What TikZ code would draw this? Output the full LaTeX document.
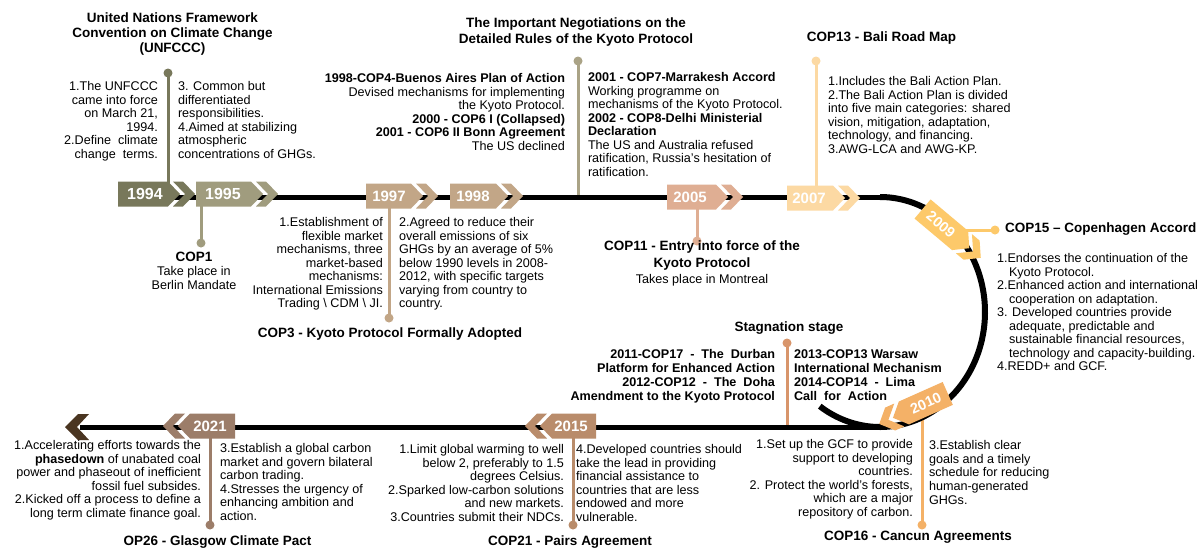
\documentclass[tikz,border=0pt]{standalone}
\usepackage{fontspec}
\setmainfont{Liberation Sans}
\definecolor{c94}{HTML}{78785B}
\definecolor{c95}{HTML}{A09C7E}
\definecolor{c97}{HTML}{C2A687}
\definecolor{cKy}{HTML}{AAA386}
\definecolor{c05}{HTML}{DFAE93}
\definecolor{c07}{HTML}{FCD9A3}
\definecolor{c09}{HTML}{FDC96A}
\definecolor{c10}{HTML}{F4B167}
\definecolor{cSt}{HTML}{D8956B}
\definecolor{c15}{HTML}{B98C6B}
\definecolor{c21}{HTML}{9C7D69}
\definecolor{cArr}{HTML}{4A3521}
\newcommand{\yeartagR}[8]{%
  \fill[#5] (#2,#4-12.5) -- (#3,#4-12.5) -- (#3+12,#4) -- (#3,#4+12.5) -- (#2,#4+12.5) -- cycle;
  \fill[#5] (#3+5,#4-12.5) -- (#3+15,#4-12.5) -- (#3+27,#4) -- (#3+15,#4+12.5) -- (#3+5,#4+12.5) -- (#3+17,#4) -- cycle;
  \node[yr=#8] (#1) at (#7,#4) {#6};}
\newcommand{\yeartagL}[8]{%
  \fill[#5] (#3,#4-12.5) -- (#2,#4-12.5) -- (#2-12,#4) -- (#2,#4+12.5) -- (#3,#4+12.5) -- cycle;
  \fill[#5] (#2-5,#4-12.5) -- (#2-15,#4-12.5) -- (#2-27,#4) -- (#2-15,#4+12.5) -- (#2-5,#4+12.5) -- (#2-17,#4) -- cycle;
  \node[yr=#8] (#1) at (#7,#4) {#6};}
\begin{document}
\begin{tikzpicture}[x=1pt,y=-1pt,
  body/.style={inner sep=0pt, outer sep=0pt, font=\fontsize{12.6}{13.5}\selectfont},
  ttl/.style={inner sep=0pt, outer sep=0pt, font=\bfseries\fontsize{13.5}{15}\selectfont},
  enddot/.style={circle, fill=#1, minimum size=9pt, inner sep=0pt},
  stemline/.style={draw=#1, line width=3pt},
  mainline/.style={draw=black, line width=5pt},
  yr/.style={text=white, inner sep=0pt, font=\bfseries\fontsize{#1}{#1}\selectfont},
]
\useasboundingbox[fill=white] (0,0) rectangle (1200,547);

% ---- dots and stems
\node[enddot=c94] (dUN) at (168,73) {};
\coordinate (eUN) at (168,186);
\draw[stemline=c94] (dUN.center) -- (eUN);

\node[enddot=c95] (dC1) at (201,243) {};
\coordinate (eC1) at (201,204);
\draw[stemline=c95] (dC1.center) -- (eC1);

\node[enddot=c97] (dC3) at (389,318) {};
\coordinate (eC3) at (389,206);
\draw[stemline=c97] (dC3.center) -- (eC3);

\node[enddot=cKy] (dKy) at (578,61) {};
\coordinate (eKy) at (578,196);
\draw[stemline=cKy] (dKy.center) -- (eKy);

\node[enddot=c05] (dC11) at (697,241) {};
\coordinate (eC11) at (697,206);
\draw[stemline=c05] (dC11.center) -- (eC11);

\node[enddot=c07] (dC13) at (816,61) {};
\coordinate (eC13) at (816,190);
\draw[stemline=c07] (dC13.center) -- (eC13);

\node[enddot=c09] (dC15) at (995,230) {};
\coordinate (eC15) at (950,230);
\draw[stemline=c09] (dC15.center) -- (eC15);

\node[enddot=cSt] (dSt) at (787,343) {};
\coordinate (eSt) at (787,426);
\draw[stemline=cSt] (dSt.center) -- (eSt);

\node[enddot=c10] (dC16) at (922,525) {};
\coordinate (eC16) at (922,408);
\draw[stemline=c10] (dC16.center) -- (eC16);

\node[enddot=c15] (dC21) at (573,525) {};
\coordinate (eC21) at (573,434);
\draw[stemline=c15] (dC21.center) -- (eC21);

\node[enddot=c21] (dC26) at (210,525) {};
\coordinate (eC26) at (210,434);
\draw[stemline=c21] (dC26.center) -- (eC26);

% ---- main timeline
\draw[mainline] (140,197) -- (880,197);
\draw[mainline, line width=6pt] plot[domain=-90:125, samples=160] ({880+105*cos(\x)},{312+115*sin(\x)});
\draw[mainline] (880,427) -- (80,427);
\fill[cArr] (65,427) -- (78,414) -- (89,414) -- (77,427) -- (89,440) -- (78,440) -- cycle;

% ---- year tags
\yeartagR{y1994}{118}{168}{194}{c94}{1994}{145}{16}
\yeartagR{y1995}{196}{251}{194}{c95}{1995}{223}{16}
\yeartagR{y1997}{366}{411}{196}{c97}{1997}{389}{15}
\yeartagR{y1998}{450}{496}{196}{c97}{1998}{473}{15}
\yeartagR{y2005}{667}{716}{197}{c05}{2005}{690}{15}
\yeartagR{y2007}{787}{833}{198}{c07}{2007}{809}{15}
\begin{scope}[shift={(944,227)}, rotate=-40, transform shape]
  \yeartagR{y2009}{-28}{21}{0}{c09}{2009}{-4}{14.5}
\end{scope}
\begin{scope}[shift={(924,404)}, rotate=24, transform shape]
  \yeartagL{y2010}{-22}{26}{0}{c10}{2010}{2}{14.5}
\end{scope}
\yeartagL{y2015}{552}{596}{426}{c15}{2015}{571}{15}
\yeartagL{y2021}{190}{235}{426}{c21}{2021}{210}{15}

% ---- UNFCCC
\node[ttl, anchor=north, align=center] (tUN) at (172.5,13.1)
  {United Nations Framework\\Convention on Climate Change\\(UNFCCC)};
\node[body, anchor=north east, align=right] (bUN1) at (158,81.4)
  {1.The UNFCCC\\came into force\\on March 21,\\1994.\\2.Define\ \ climate\ \\change\ \ terms.};
\node[body, anchor=north west, align=left] (bUN2) at (178,81.4)
  {3. Common but\\differentiated\\responsibilities.\\4.Aimed at stabilizing\\atmospheric\\concentrations of GHGs.};

% ---- COP1
\node[body, anchor=north, align=center, font=\fontsize{12.6}{14}\selectfont] (tC1) at (194,252.2)
  {{\bfseries\fontsize{13.5}{14}\selectfont COP1}\\Take place in\\Berlin Mandate};

% ---- COP3
\node[body, anchor=north east, align=right] (bC3a) at (383,217.4)
  {1.Establishment of\\flexible market\\mechanisms, three\\market-based\\mechanisms:\\International Emissions\\Trading \textbackslash{} CDM \textbackslash{} JI.};
\node[body, anchor=north west, align=left] (bC3b) at (399,217.4)
  {2.Agreed to reduce their\\overall emissions of six\\GHGs by an average of 5\%\\below 1990 levels in 2008-\\2012, with specific targets\\varying from country to\\country.};
\node[ttl, anchor=base] (tC3) at (390,337.8) {COP3 - Kyoto Protocol Formally Adopted};

% ---- Kyoto negotiations
\node[ttl, anchor=north, align=center, font=\bfseries\fontsize{13.5}{16}\selectfont] (tKy) at (576,18.1)
  {The Important Negotiations on the\\Detailed Rules of the Kyoto Protocol};
\node[body, anchor=north east, align=right] (bKy1) at (565,73.4)
  {\textbf{1998-COP4-Buenos Aires Plan of Action}\\Devised mechanisms for implementing\\the Kyoto Protocol.\\\textbf{2000 - COP6 I (Collapsed)}\\\textbf{2001 - COP6 II Bonn Agreement}\\The US declined};
\node[body, anchor=north west, align=left] (bKy2) at (588,72.4)
  {\textbf{2001 - COP7-Marrakesh Accord}\\Working programme on\\mechanisms of the Kyoto Protocol.\\\textbf{2002 - COP8-Delhi Ministerial}\\\textbf{Declaration}\\The US and Australia refused\\ratification, Russia's hesitation of\\ratification.};

% ---- COP11
\node[body, anchor=north, align=center, font=\fontsize{13.5}{16.5}\selectfont] (tC11) at (702,240.8)
  {\textbf{COP11 - Entry into force of the}\\\textbf{Kyoto Protocol}\\{\fontsize{12.6}{16.5}\selectfont Takes place in Montreal}};

% ---- COP13
\node[ttl, anchor=base] (tC13) at (881.5,41.85) {COP13 - Bali Road Map};
\node[body, anchor=north west, align=left] (bC13) at (828,76.4)
  {1.Includes the Bali Action Plan.\\2.The Bali Action Plan is divided\\into five main categories: shared\\vision, mitigation, adaptation,\\technology, and financing.\\3.AWG-LCA and AWG-KP.};

% ---- COP15
\node[ttl, anchor=base west] (tC15) at (1005,232.85) {COP15 – Copenhagen Accord};
\node[body, anchor=north west, align=left] (bC15) at (997,253.4)
  {1.Endorses the continuation of the\\\hspace*{12pt}Kyoto Protocol.\\2.Enhanced action and international\\\hspace*{12pt}cooperation on adaptation.\\3. Developed countries provide\\\hspace*{12pt}adequate, predictable and\\\hspace*{12pt}sustainable financial resources,\\\hspace*{12pt}technology and capacity-building.\\4.REDD+ and GCF.};

% ---- Stagnation
\node[ttl, anchor=base] (tSt) at (789,331.85) {Stagnation stage};
\node[body, anchor=north east, align=right, font=\bfseries\fontsize{12.6}{14}\selectfont] (bSt1) at (775,349.4)
  {2011-COP17\ \ -\ \ The\ \ Durban\\Platform for Enhanced Action\\2012-COP12\ \ -\ \ The\ \ Doha\\Amendment to the Kyoto Protocol};
\node[body, anchor=north west, align=left, font=\bfseries\fontsize{12.6}{14}\selectfont] (bSt2) at (794,349.4)
  {2013-COP13 Warsaw\\International Mechanism\\2014-COP14\ \ -\ \ Lima\\Call\ \ for\ \ Action};

% ---- COP16
\node[body, anchor=north east, align=right] (bC16a) at (913,439.4)
  {1.Set up the GCF to provide\\support to developing\\countries.\\2. Protect the world’s forests,\\which are a major\\repository of carbon.};
\node[body, anchor=north west, align=left, font=\fontsize{12.6}{13.7}\selectfont] (bC16b) at (929,440.4)
  {3.Establish clear\\goals and a timely\\schedule for reducing\\human-generated\\GHGs.};
\node[ttl, anchor=base] (tC16) at (918,540.85) {COP16 - Cancun Agreements};

% ---- COP21
\node[body, anchor=north east, align=right, font=\fontsize{12.6}{13.6}\selectfont] (bC21a) at (564,444.4)
  {1.Limit global warming to well\\below 2, preferably to 1.5\\degrees Celsius.\\2.Sparked low-carbon solutions\\and new markets.\\3.Countries submit their NDCs.};
\node[body, anchor=north west, align=left, font=\fontsize{12.6}{13.6}\selectfont] (bC21b) at (576,444.4)
  {4.Developed countries should\\take the lead in providing\\financial assistance to\\countries that are less\\endowed and more\\vulnerable.};
\node[ttl, anchor=base] (tC21) at (570,545.85) {COP21 - Pairs Agreement};

% ---- COP26
\node[body, anchor=north east, align=right, font=\fontsize{12.6}{13.6}\selectfont] (bC26a) at (201,440.4)
  {1.Accelerating efforts towards the\\\textbf{phasedown} of unabated coal\\power and phaseout of inefficient\\fossil fuel subsides.\\2.Kicked off a process to define a\\long term climate finance goal.};
\node[body, anchor=north west, align=left, font=\fontsize{12.6}{13.6}\selectfont] (bC26b) at (220,443.4)
  {3.Establish a global carbon\\market and govern bilateral\\carbon trading.\\4.Stresses the urgency of\\enhancing ambition and\\action.};
\node[ttl, anchor=base] (tC26) at (217.5,545.85) {OP26 - Glasgow Climate Pact};
\end{tikzpicture}
\end{document}
